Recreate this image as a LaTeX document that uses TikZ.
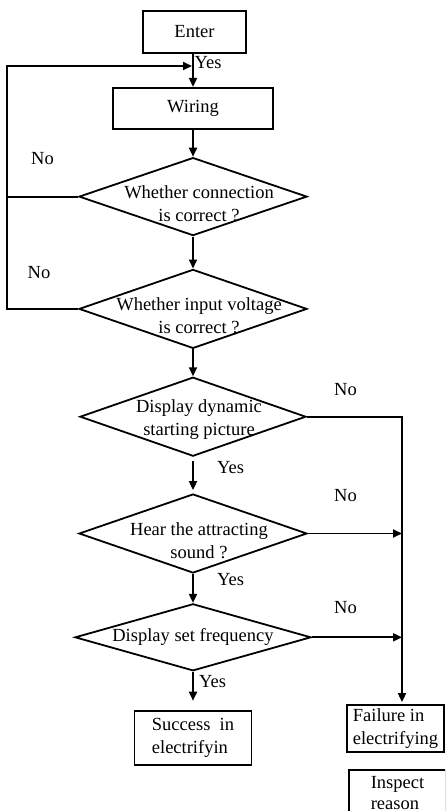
\documentclass[tikz,border=0pt]{standalone}
\usepackage{fontspec}
\setmainfont{Liberation Serif}
\usetikzlibrary{positioning,arrows.meta,shapes.geometric}

\begin{document}
\begin{tikzpicture}[
    x=1pt, y=1pt,
    font=\fontsize{18.5}{23}\selectfont,
    line width=1.8pt,
    proc/.style={draw, rectangle, inner sep=0pt},
    dec/.style={draw, diamond, inner sep=0pt},
    txt/.style={align=center, inner sep=0pt},
    arr/.style={-{Triangle[length=9pt,width=8pt]}},
]
\useasboundingbox (0,0) rectangle (445,-811);
\clip (0,0) rectangle (445,-811);

% main column
\node[proc, minimum width=103pt, minimum height=42pt] (enter) at (194.5,-32) {Enter};
\node[proc, minimum width=160pt, minimum height=41pt, below=33pt of enter, xshift=-1.5pt] (wiring) {Wiring};
\node[dec, minimum width=228pt, minimum height=78pt, below=27pt of wiring] (conn) {};
\node[dec, minimum width=228pt, minimum height=79pt, below=32pt of conn] (volt) {};
\node[dec, minimum width=226pt, minimum height=79pt, below=27pt of volt] (pict) {};
\node[dec, minimum width=228pt, minimum height=79pt, below=36pt of pict] (sound) {};
\node[dec, minimum width=236pt, minimum height=67pt, below=29pt of sound] (freq) {};
\node[proc, minimum width=117pt, minimum height=54pt, below=38pt of freq, align=left] (succ) {Success\ \ in\\electrifyin};

% failure side
\node[proc, minimum width=97pt, minimum height=47pt, align=left] (fail) at (395.5,-728.5) {Failure in\\electrifying};
\node[proc, minimum width=97pt, minimum height=46pt, align=left, below=16pt of fail, xshift=2pt,
      font=\fontsize{18.5}{21}\selectfont] (insp) {Inspect\\reason};

% texts in the diamonds
\node[txt] (conntxt) at ([shift={(6,-7)}]conn.center) {Whether connection\\is correct ?};
\node[txt] (volttxt) at ([shift={(6,-7)}]volt.center) {Whether input voltage\\is correct ?};
\node[txt] (picttxt) at ([shift={(6,-3)}]pict.center) {Display dynamic\\starting picture};
\node[txt] (soundtxt) at ([shift={(6,-7)}]sound.center) {Hear the attracting\\sound ?};
\node[txt] (freqtxt) at (freq.center) {Display set frequency};

\coordinate (loop) at (7,-66);
\coordinate (rail) at (402,-408);

\draw[arr] (enter.south -| wiring.north) -- (wiring.north);
\draw[arr] (wiring) -- (conn);
\draw[arr] (conn) -- (volt);
\draw[arr] (volt) -- (pict);
\draw[arr] ([yshift=-4pt]pict.south) -- ([yshift=3pt]sound.north);
\draw[arr] (sound) -- (freq);
\draw[arr] (freq.south) -- ([yshift=9pt]freq.south |- succ.north);

% back to wiring
\draw[arr] (volt.west) -- (volt.west -| loop) -- (loop) -- ([xshift=-1pt]wiring.north |- loop);
\draw (conn.west) -- (conn.west -| loop);

% to failure
\draw[arr] (pict.east) -- (pict.east -| rail) -- ([yshift=2pt]fail.north -| rail);
\draw[arr] (sound.east) -- (sound.east -| rail);
\draw[arr] (freq.east) -- (freq.east -| rail);

\node (yes1) at (208,-63) {Yes};
\node (no1) at (42.5,-159) {No};
\node (no2) at (39,-273) {No};
\node (no3) at (345.5,-390) {No};
\node (yes2) at (230.5,-468) {Yes};
\node (no4) at (345.5,-496) {No};
\node (yes3) at (230.5,-580) {Yes};
\node (no5) at (345.5,-608) {No};
\node (yes4) at (212.5,-682) {Yes};
\end{tikzpicture}
\end{document}
